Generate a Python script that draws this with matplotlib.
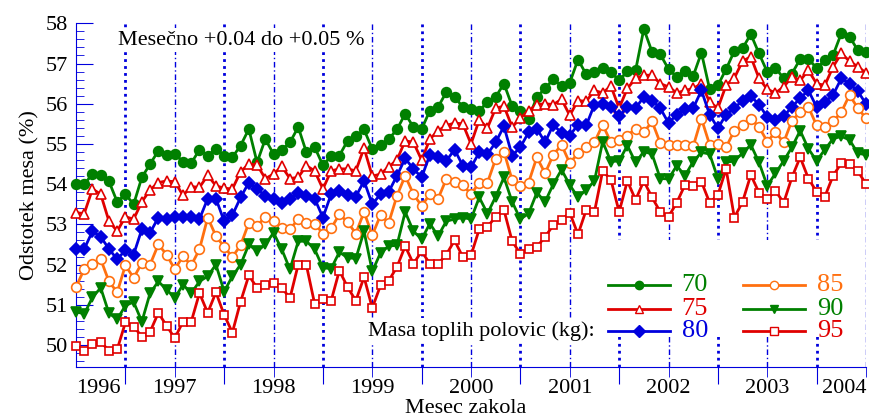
import matplotlib
matplotlib.use("Agg")
import matplotlib.pyplot as plt
from matplotlib.transforms import blended_transform_factory
from matplotlib.patches import Rectangle

# monthly values, Jul 1996 .. Jul 2004 (index 0 = Jul 1996)
w70 = [54.0,54.0,54.25,54.23,54.07,53.56,53.75,53.5,
       54.17,54.5,54.83,54.73,54.75,54.56,54.52,54.86,54.71,54.88,54.71,54.67,54.96,55.37,54.54,55.12,54.75,54.86,55.04,
       55.42,54.79,54.92,54.47,54.7,54.71,55.08,55.19,55.36,54.87,54.98,55.12,55.36,55.75,55.42,55.37,55.83,55.92,56.29,56.17,55.92,55.86,55.83,56.04,
       56.17,56.5,55.94,55.81,55.63,56.17,56.38,56.61,56.44,56.52,57.1,56.73,56.79,56.89,56.79,56.58,56.81,56.83,57.86,57.29,57.23,56.86,56.67,56.81,
       56.69,57.27,56.36,56.46,56.86,57.31,57.38,57.73,57.25,56.79,56.89,56.63,56.75,57.11,57.11,56.89,57.08,57.21,57.75,57.67,57.33,57.29]
w75 = [53.29,53.27,53.88,53.75,53.08,52.83,53.19,53.13,
       53.56,53.86,54.04,54.08,54.06,53.72,53.94,53.92,54.22,53.96,53.9,53.88,54.31,54.5,54.48,54.14,54.25,54.44,54.14,
       54.17,54.46,54.33,53.88,54.33,54.38,54.38,54.33,54.9,54.2,54.25,54.43,54.6,55.08,55.04,54.6,55.12,55.33,55.46,55.52,55.5,55.0,55.6,55.4,
       55.89,55.94,55.42,55.64,55.83,55.98,56.0,55.98,56.11,55.71,56.08,56.06,56.33,56.27,56.44,55.89,56.38,56.63,56.71,56.71,56.5,56.42,56.27,56.33,
       56.38,56.5,56.04,55.89,56.46,56.64,57.06,57.17,56.63,56.36,56.27,56.42,56.67,56.58,56.83,56.5,56.46,56.92,57.25,57.06,56.92,56.77]
w80 = [52.39,52.39,52.83,52.69,52.39,52.13,52.36,52.25,
       52.88,52.79,53.17,53.13,53.19,53.19,53.19,53.13,53.64,53.64,53.08,53.23,53.67,54.04,53.88,53.71,53.64,53.54,53.64,
       53.79,53.71,53.64,53.17,53.75,53.83,53.73,53.69,54.08,53.5,53.75,53.81,54.21,54.64,54.38,54.17,54.73,54.67,54.58,54.86,54.46,54.42,54.79,54.75,
       55.04,55.44,54.71,54.92,55.29,55.38,55.04,55.48,55.27,55.21,55.48,55.46,55.98,56.0,55.92,55.69,55.92,55.89,56.17,56.08,55.89,55.52,55.73,55.86,
       55.89,56.33,55.73,55.39,55.73,55.89,56.08,56.19,55.98,55.67,55.6,55.69,55.92,56.14,56.33,55.92,56.04,56.22,56.63,56.5,56.31,56.0]
w85 = [51.44,51.89,52.02,52.13,51.58,51.31,51.98,51.67,
       52.04,52.0,52.5,52.25,51.88,52.21,51.98,52.38,53.17,52.71,52.44,52.19,52.48,53.04,52.96,53.19,53.08,52.92,52.88,
       53.13,53.04,53.02,52.77,52.9,53.25,53.06,52.77,53.31,52.73,53.23,53.04,53.71,54.21,53.75,53.46,53.75,53.64,54.13,54.06,53.98,53.75,54.04,54.04,
       54.63,54.81,54.1,53.96,54.04,54.67,54.27,54.73,54.98,54.52,54.77,54.92,55.04,55.48,55.04,55.11,55.21,55.38,55.29,55.56,55.02,54.98,54.98,54.98,
       54.94,55.63,54.98,55.0,54.92,55.33,55.48,55.63,55.42,55.06,55.29,55.04,55.58,55.79,55.92,55.46,55.42,55.56,55.79,56.22,55.89,55.64]
w90 = [50.83,50.77,51.19,51.42,50.79,50.64,50.98,51.07,
       50.58,51.29,51.58,51.38,51.17,51.5,51.29,51.58,51.71,52.0,51.33,51.71,52.0,52.5,52.33,52.5,52.79,52.38,51.88,
       52.58,52.58,52.38,51.92,51.9,52.31,52.17,52.15,52.83,51.83,52.29,52.46,52.48,53.31,52.83,52.63,53.02,52.71,53.08,53.13,53.17,53.13,53.67,53.27,
       53.69,54.17,53.56,53.13,53.27,53.79,53.56,54.0,54.36,53.98,53.67,53.86,54.08,55.06,54.56,54.58,54.96,54.54,54.81,54.75,54.14,54.13,54.46,54.21,
       54.56,54.79,54.75,54.14,54.54,54.58,54.77,54.98,54.54,53.96,54.27,54.58,54.92,55.33,54.88,54.58,54.86,55.13,55.19,55.1,54.77,54.73]
w95 = [49.98,49.86,50.03,50.08,49.86,49.89,50.56,50.46,
       50.21,50.33,50.8,50.48,50.17,50.58,50.58,51.29,50.8,51.31,50.75,50.31,51.08,51.73,51.42,51.48,51.54,51.42,51.17,
       52.0,51.98,51.02,51.15,51.1,51.85,51.44,51.1,51.69,50.92,51.48,51.6,51.94,52.46,52.02,52.33,52.02,52.02,52.25,52.6,52.19,52.23,52.88,52.94,
       53.19,53.36,52.58,52.27,52.38,52.44,52.69,52.98,53.11,53.29,52.75,53.36,53.31,54.33,54.11,53.31,54.08,53.61,54.08,53.67,53.31,53.19,53.54,53.98,
       53.96,54.06,53.54,53.73,54.38,53.17,53.56,54.23,53.79,53.63,53.83,53.54,54.17,54.67,54.14,53.81,53.69,54.21,54.52,54.5,54.33,54.0]

years = [1996, 1997, 1998, 1999, 2000, 2001, 2002, 2003, 2004]
months = list(range(len(w70)))

GREEN, RED, BLUE, ORANGE = "#008000", "#e00000", "#0000dd", "#ff7010"
series = [
    ("70", w70, GREEN, "o", GREEN),
    ("75", w75, RED, "^", "white"),
    ("80", w80, BLUE, "D", BLUE),
    ("85", w85, ORANGE, "o", "white"),
    ("90", w90, GREEN, "v", GREEN),
    ("95", w95, RED, "s", "white"),
]

plt.rcParams["font.family"] = ["Liberation Serif", "DejaVu Serif"]
fig = plt.figure(figsize=(8.7, 4.18), dpi=100)
ax = fig.add_axes([0.0874, 0.1227, 0.908, 0.8215])
ax.set_xlim(0, 96)
ax.set_ylim(49.46, 58.0)

# vertical guide lines at Jan (year boundary) and Jul
for m in range(6, 97, 12):
    ax.axvline(m, color=BLUE, lw=2, ls=(0, (1, 1.5)), zorder=1)
for m in range(12, 97, 12):
    ax.axvline(m, color=BLUE, lw=1, ls=(0, (4, 2, 1, 2)), zorder=1)

for name, vals, col, mk, fc in series:
    ms = 7 if mk in ("o", "v", "^") else 6
    ax.plot(months, vals, color=col, lw=2, marker=mk, ms=ms, mfc=fc, mec=col,
            mew=1.2, zorder=4, clip_on=False)

for s in ["top", "right"]:
    ax.spines[s].set_visible(False)
for s in ["left", "bottom"]:
    ax.spines[s].set_color(BLUE)

ax.set_yticks(range(50, 59))
ax.set_yticks([49.6 + 0.2 * k for k in range(43)], minor=True)
ax.tick_params(axis="y", which="major", direction="in", length=12, color=BLUE, labelsize=16, pad=6)
ax.tick_params(axis="y", which="minor", direction="in", length=6, color=BLUE)
ax.set_xticks(range(6, 97, 12))
ax.set_xticks(range(12, 97, 12), minor=True)
ax.tick_params(axis="x", which="major", direction="out", length=12, color=BLUE, labelbottom=False)
ax.tick_params(axis="x", which="minor", direction="out", length=7, color=BLUE)

tr = blended_transform_factory(ax.transData, ax.transAxes)
label_pos = [2.7] + [12 * k for k in range(1, 8)] + [93.3]
for yr, p in zip(years, label_pos):
    ax.text(p, -0.035, str(yr), transform=tr, ha="center", va="top", fontsize=16)

fig.text(0.535, 0.0, "Mesec zakola", fontsize=16, ha="center", va="bottom")
ax.set_ylabel("Odstotek mesa (%)", fontsize=16, labelpad=4)

ax.text(5.1, 57.58, "Mesečno +0.04 do +0.05 %", fontsize=16,
        ha="left", va="center", bbox=dict(fc="white", ec="none", pad=2), zorder=2)

# legend block
ax.add_patch(Rectangle((63.5, 50.2), 32, 2.4, fc="white", ec="none", zorder=2))
ax.text(63.0, 50.35, "Masa toplih polovic (kg):", fontsize=16, ha="right", va="center",
        bbox=dict(fc="white", ec="none", pad=2), zorder=2)
leg_rows = [51.48, 50.9, 50.35]
for k, (name, vals, col, mk, fc) in enumerate(series):
    c0 = 64.6 if k < 3 else 81.0
    yy = leg_rows[k % 3]
    ax.plot([c0, c0 + 7.6], [yy, yy], color=col, lw=2, zorder=3)
    ax.plot([c0 + 3.8], [yy], color=col, marker=mk, ms=6, mfc=fc, mec=col, zorder=3)
    ax.text(c0 + 9.0, yy, name, color=col, fontsize=19, ha="left", va="center", zorder=3)

fig.savefig("out.png", dpi=100)
